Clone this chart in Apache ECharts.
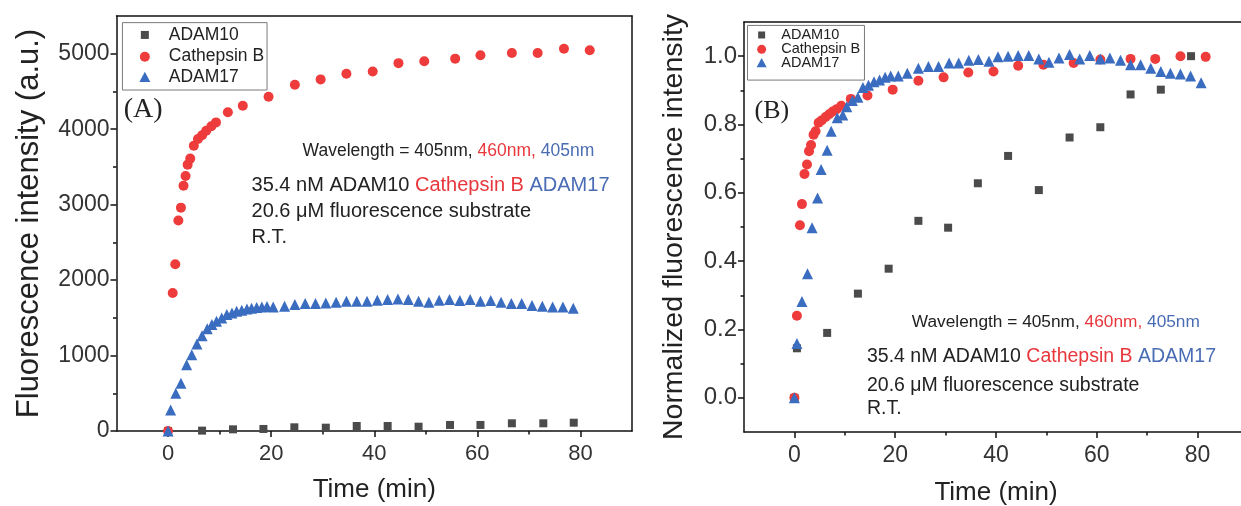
<!DOCTYPE html>
<html><head><meta charset="utf-8">
<script src="https://cdn.jsdelivr.net/npm/echarts@6/dist/echarts.min.js"></script>
<style>html,body{margin:0;padding:0;background:#fff}#c{width:1241px;height:506px}</style>
</head><body><div id="c"></div>
<script>
// ---------- tick labels ----------
const xTicks = [0, 20, 40, 60, 80];
const xMinorTicks = [10, 30, 50, 70];
const yTicksA = [0, 1000, 2000, 3000, 4000, 5000];
const yMinorTicksA = [500, 1500, 2500, 3500, 4500];
const yTicksB = [0, 0.2, 0.4, 0.6, 0.8, 1.0];
const yMinorTicksB = [0.1, 0.3, 0.5, 0.7, 0.9];
const seriesNames = ['ADAM10', 'Cathepsin B', 'ADAM17'];

// ---------- panel A data (raw intensity) ----------
const tA_adam10 = [0, 6.6, 12.6, 18.5, 24.5, 30.6, 36.6, 42.6, 48.6, 54.7, 60.6, 66.7, 72.8, 78.7];
const vA_adam10 = [0, 5, 22, 27, 49, 44, 66, 66, 57, 80, 80, 102, 102, 110];
const tA_catB = [0, 0.9, 1.4, 2.0, 2.5, 3.0, 3.4, 3.8, 4.3, 5.0, 5.8, 6.6, 7.4, 8.4, 9.3, 11.6, 14.5, 19.5, 24.6, 29.6, 34.6, 39.7, 44.7, 49.7, 55.7, 60.6, 66.7, 71.7, 76.8, 81.8];
const vA_catB = [0, 1830, 2210, 2790, 2960, 3250, 3380, 3530, 3610, 3780, 3870, 3920, 3980, 4040, 4090, 4225, 4310, 4430, 4590, 4660, 4735, 4765, 4875, 4900, 4935, 4980, 5010, 5010, 5065, 5045];
const tA_adam17 = [0, 0.5, 1.5, 2.5, 3.6, 4.6, 5.6, 6.6, 7.6, 8.5, 9.4, 10.4, 11.4, 12.4, 13.3, 14.3, 15.3, 16.2, 17.2, 18.2, 19.2, 20.4, 22.6,
  24.6, 26.6, 28.6, 30.6, 32.6, 34.6, 36.6, 38.6, 40.6, 42.6, 44.6, 46.6, 48.6, 50.6, 52.6, 54.6, 56.6, 58.6, 60.6, 62.6, 64.6, 66.6, 68.6, 70.6, 72.6, 74.6, 76.6, 78.6];
const vA_adam17 = [0, 279, 501, 634, 878, 1011, 1153, 1263, 1356, 1410, 1453, 1498, 1543, 1565, 1587, 1600, 1618, 1626, 1636, 1645, 1649, 1645, 1653,
  1676, 1689, 1689, 1698, 1707, 1720, 1720, 1720, 1733, 1742, 1751, 1742, 1720, 1707, 1733, 1742, 1729, 1742, 1720, 1729, 1707, 1689, 1689, 1662, 1653, 1645, 1645, 1627];

// ---------- panel B data (normalized) ----------
const tB_adam10 = [0, 0.5, 6.5, 12.6, 18.7, 24.6, 30.5, 36.4, 42.4, 48.5, 54.6, 60.7, 66.7, 72.7, 78.7];
const vB_adam10 = [0, 0.145, 0.19, 0.305, 0.378, 0.518, 0.498, 0.628, 0.708, 0.608, 0.762, 0.792, 0.888, 0.902, 1.0];
const tB_catB = [0, 0.5, 1.1, 1.5, 2.0, 2.5, 2.9, 3.3, 3.8, 4.2, 4.8, 5.4, 6.2, 6.9, 7.6, 8.4, 9.3, 11.2, 14.5, 19.5, 24.6, 29.6, 34.5, 39.5, 44.4, 49.4, 55.4, 60.7, 66.7, 71.6, 76.6, 81.6];
const vB_catB = [0, 0.24, 0.505, 0.567, 0.655, 0.683, 0.722, 0.74, 0.77, 0.78, 0.805, 0.812, 0.822, 0.83, 0.838, 0.845, 0.855, 0.875, 0.885, 0.902, 0.928, 0.938, 0.952, 0.955, 0.972, 0.975, 0.98, 0.99, 0.992, 0.992, 1.0, 0.998];
const tB_adam17 = [0, 0.5, 1.5, 2.6, 3.5, 4.6, 5.3, 6.5, 7.3, 8.5, 9.6, 10.4, 11.5, 12.6, 13.6, 14.7, 15.8, 16.9, 18.0, 19.1, 20.6, 22.4,
  24.6, 26.6, 28.6, 30.7, 32.6, 34.6, 36.5, 38.6, 40.4, 42.4, 44.4, 46.5, 48.5, 50.5, 52.5, 54.6, 56.6, 58.6, 60.7, 62.6, 64.7, 66.7, 68.7, 70.7, 72.7, 74.6, 76.6, 78.6, 80.7];
const vB_adam17 = [0, 0.159, 0.282, 0.363, 0.498, 0.585, 0.668, 0.725, 0.78, 0.82, 0.828, 0.852, 0.87, 0.88, 0.908, 0.915, 0.925, 0.93, 0.938, 0.942, 0.942, 0.95,
  0.965, 0.97, 0.97, 0.98, 0.98, 0.988, 0.99, 0.985, 0.998, 1.0, 1.002, 1.002, 0.992, 0.982, 0.995, 1.005, 0.992, 1.002, 0.992, 0.995, 0.988, 0.975, 0.975, 0.965, 0.955, 0.95, 0.948, 0.942, 0.922];

// ---------- styling ----------
const FONT = '"Liberation Sans", Arial, sans-serif';
const SERIF = '"Liberation Serif", "Times New Roman", serif';
const GRAY = '#4b4b4b', RED = '#ee3b3b', BLUE = '#3a6cc0';
const TXT = '#222', TXT_RED = '#e8373c', TXT_BLUE = '#4a6cb5';
const LINE = {color: '#111', width: 1.5};

const chart = echarts.init(document.getElementById('c'), null, {renderer: 'canvas'});
const pts = (t, v) => t.map((x, i) => [x, v[i]]);

function xMain(g, gap, lsize, margin) {
  return {type: 'value', gridIndex: g, min: -10, max: 90, position: 'bottom',
    axisLine: {show: true, onZero: false, lineStyle: LINE},
    axisTick: {show: true, customValues: xTicks, length: 6, lineStyle: LINE},
    axisLabel: {show: true, customValues: xTicks, fontSize: lsize, color: '#333', fontFamily: FONT, margin},
    splitLine: {show: false},
    name: 'Time (min)', nameLocation: 'middle', nameGap: gap,
    nameTextStyle: {fontSize: 26, color: TXT, fontFamily: FONT}};
}
function xMinor(g) {
  return {type: 'value', gridIndex: g, min: -10, max: 90, position: 'bottom',
    axisLine: {show: false, onZero: false},
    axisTick: {show: true, customValues: xMinorTicks, length: 3.5, lineStyle: LINE},
    axisLabel: {show: false}, splitLine: {show: false}};
}
function xTop(g) {
  return {type: 'value', gridIndex: g, min: -10, max: 90, position: 'top',
    axisLine: {show: true, onZero: false, lineStyle: LINE},
    axisTick: {show: false}, axisLabel: {show: false}, splitLine: {show: false}};
}
function yMain(g, min, max, ticks, fmt, lsize, name, nsize, gap) {
  return {type: 'value', gridIndex: g, min, max, position: 'left',
    axisLine: {show: true, onZero: false, lineStyle: LINE},
    axisTick: {show: true, customValues: ticks, length: 6, lineStyle: LINE},
    axisLabel: {show: true, customValues: ticks, fontSize: lsize, color: '#333', fontFamily: FONT, margin: 7, formatter: fmt},
    splitLine: {show: false},
    name, nameLocation: 'middle', nameGap: gap, nameRotate: 90,
    nameTextStyle: {fontSize: nsize, color: TXT, fontFamily: FONT}};
}
function yMinor(g, min, max, ticks) {
  return {type: 'value', gridIndex: g, min, max, position: 'left',
    axisLine: {show: false, onZero: false},
    axisTick: {show: true, customValues: ticks, length: 3.5, lineStyle: LINE},
    axisLabel: {show: false}, splitLine: {show: false}};
}
function yRight(g, min, max) {
  return {type: 'value', gridIndex: g, min, max, position: 'right',
    axisLine: {show: true, onZero: false, lineStyle: LINE},
    axisTick: {show: false}, axisLabel: {show: false}, splitLine: {show: false}};
}
function scatter(name, xi, yi, data, sym, size, color) {
  return {type: 'scatter', name, xAxisIndex: xi, yAxisIndex: yi, data, symbol: sym, symbolSize: size,
    itemStyle: {color, opacity: 1}, emphasis: {disabled: true}, silent: true, animation: false};
}

chart.setOption({
  animation: false,
  backgroundColor: '#fff',
  grid: [
    {left: 116.5, top: 16, width: 515.5, height: 415, containLabel: false, outerBoundsMode: 'none'},
    {left: 744, top: 22, width: 504, height: 410, containLabel: false, outerBoundsMode: 'none'}
  ],
  xAxis: [xMain(0, 46, 22, 12), xMinor(0), xTop(0), xMain(1, 48, 23, 12), xMinor(1), xTop(1)],
  yAxis: [
    yMain(0, 0, 5500, yTicksA, v => String(v), 23, 'Fluorescence intensity (a.u.)', 31, 72),
    yMinor(0, 0, 5500, yMinorTicksA),
    yRight(0, 0, 5500),
    yMain(1, -0.1, 1.1, yTicksB, v => v.toFixed(1), 24, 'Normalized fluorescence intensity', 28.5, 55),
    yMinor(1, -0.1, 1.1, yMinorTicksB)
  ],
  series: [
    scatter(seriesNames[0], 0, 0, pts(tA_adam10, vA_adam10), 'rect', 8, GRAY),
    scatter(seriesNames[1], 0, 0, pts(tA_catB, vA_catB), 'circle', 10, RED),
    scatter(seriesNames[2], 0, 0, pts(tA_adam17, vA_adam17), 'triangle', 11, BLUE),
    scatter(seriesNames[0], 3, 3, pts(tB_adam10, vB_adam10), 'rect', 8, GRAY),
    scatter(seriesNames[1], 3, 3, pts(tB_catB, vB_catB), 'circle', 10, RED),
    scatter(seriesNames[2], 3, 3, pts(tB_adam17, vB_adam17), 'triangle', 11, BLUE)
  ]
});

// ---------- annotations, placed in data space ----------
function px(ax, t, v) { return chart.convertToPixel({xAxisIndex: ax, yAxisIndex: ax}, [t, v]); }
function richLine(ax, t, v, size, parts) {
  const p = px(ax, t, v);
  const rich = {};
  let text = '';
  parts.forEach((pt, i) => {
    rich['s' + i] = {fill: pt[1], fontSize: size, fontFamily: FONT};
    text += '{s' + i + '|' + pt[0] + '}';
  });
  return {type: 'text', x: p[0], y: p[1], z: 50,
    style: {text, rich, textAlign: 'left', textVerticalAlign: 'middle', fontSize: size, fontFamily: FONT}};
}
function plain(ax, t, v, str, size, family, color) {
  const p = px(ax, t, v);
  return {type: 'text', x: p[0], y: p[1], z: 50,
    style: {text: str, fill: color, fontSize: size, fontFamily: family, textAlign: 'left', textVerticalAlign: 'middle'}};
}
function legend(ax, box, rows, symT, txtT, size, symSizes) {
  const a = px(ax, box[0], box[2]), b = px(ax, box[1], box[3]);
  const els = [{type: 'rect', z: 40, shape: {x: a[0], y: a[1], width: b[0] - a[0], height: b[1] - a[1]},
    style: {fill: '#fff', stroke: '#7a7a7a', lineWidth: 1}}];
  const colors = [GRAY, RED, BLUE];
  rows.forEach((rv, i) => {
    const s = px(ax, symT, rv), tx = px(ax, txtT, rv);
    const h = symSizes[i] / 2;
    if (i === 0) els.push({type: 'rect', z: 41, shape: {x: s[0] - h, y: s[1] - h, width: 2 * h, height: 2 * h}, style: {fill: colors[0]}});
    if (i === 1) els.push({type: 'circle', z: 41, shape: {cx: s[0], cy: s[1], r: h}, style: {fill: colors[1]}});
    if (i === 2) els.push({type: 'polygon', z: 41, shape: {points: [[s[0], s[1] - h], [s[0] + h, s[1] + h * 0.85], [s[0] - h, s[1] + h * 0.85]]}, style: {fill: colors[2]}});
    els.push({type: 'text', z: 41, x: tx[0], y: tx[1],
      style: {text: seriesNames[i], fill: TXT, fontSize: size, fontFamily: FONT, textAlign: 'left', textVerticalAlign: 'middle'}});
  });
  return els;
}

const g = [];
// panel A
g.push(...legend(0, [-8.85, 19.2, 5412, 4519], [5249, 4961, 4688], -4.5, 0.14, 17.5, [8, 10, 11]));
g.push(plain(0, -8.6, 4254, '(A)', 28, SERIF, TXT));
g.push(richLine(0, 26.1, 3702, 17.5, [['Wavelength = 405nm, ', TXT], ['460nm, ', TXT_RED], ['405nm', TXT_BLUE]]));
g.push(richLine(0, 16.2, 3260, 20, [['35.4 nM ADAM10 ', TXT], ['Cathepsin B ', TXT_RED], ['ADAM17', TXT_BLUE]]));
g.push(plain(0, 16.2, 2909, '20.6 \u03bcM fluorescence substrate', 20, FONT, TXT));
g.push(plain(0, 16.2, 2565, 'R.T.', 20, FONT, TXT));
// panel B
g.push(...legend(3, [-9.3, 13.9, 1.09, 0.93], [1.062, 1.02, 0.98], -6.5, -2.6, 14.5, [7, 9, 10]));
g.push(plain(3, -7.9, 0.84, '(B)', 26, SERIF, TXT));
g.push(richLine(3, 23.3, 0.221, 17.3, [['Wavelength = 405nm, ', TXT], ['460nm, ', TXT_RED], ['405nm', TXT_BLUE]]));
g.push(richLine(3, 14.4, 0.12, 19.5, [['35.4 nM ADAM10 ', TXT], ['Cathepsin B ', TXT_RED], ['ADAM17', TXT_BLUE]]));
g.push(plain(3, 14.4, 0.036, '20.6 \u03bcM fluorescence substrate', 19.5, FONT, TXT));
g.push(plain(3, 14.4, -0.032, 'R.T.', 19.5, FONT, TXT));

chart.setOption({graphic: {elements: g}});
</script>
</body></html>
